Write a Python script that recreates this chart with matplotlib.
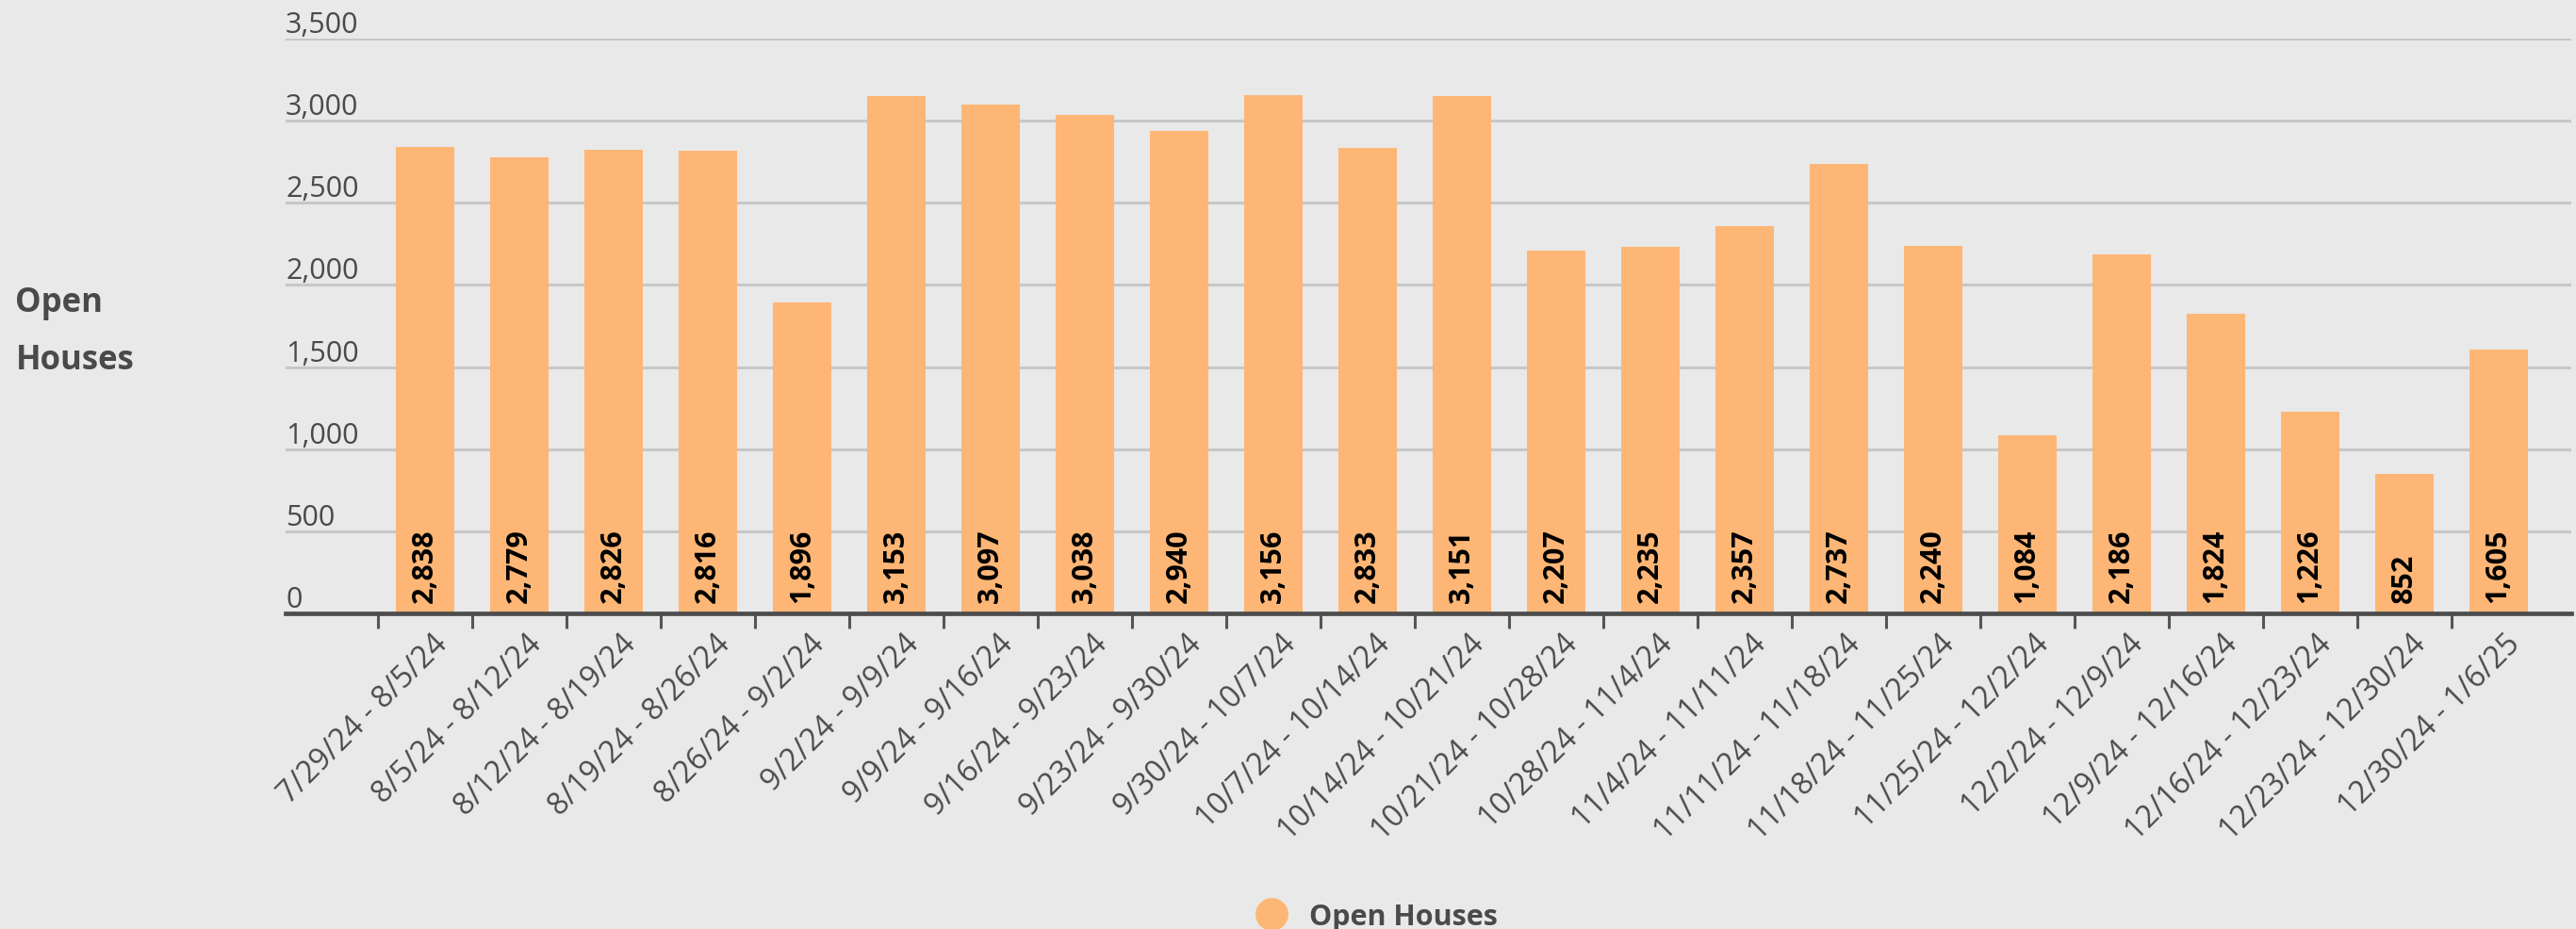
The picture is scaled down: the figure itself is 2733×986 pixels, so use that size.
import numpy as np
import matplotlib
matplotlib.use("Agg")
import matplotlib.pyplot as plt
import matplotlib.transforms as mtrans
from matplotlib.lines import Line2D

plt.rcParams['font.family'] = ['Open Sans', 'DejaVu Sans']

weeks = ["7/29/24 - 8/5/24", "8/5/24 - 8/12/24", "8/12/24 - 8/19/24", "8/19/24 - 8/26/24",
         "8/26/24 - 9/2/24", "9/2/24 - 9/9/24", "9/9/24 - 9/16/24", "9/16/24 - 9/23/24",
         "9/23/24 - 9/30/24", "9/30/24 - 10/7/24", "10/7/24 - 10/14/24", "10/14/24 - 10/21/24",
         "10/21/24 - 10/28/24", "10/28/24 - 11/4/24", "11/4/24 - 11/11/24", "11/11/24 - 11/18/24",
         "11/18/24 - 11/25/24", "11/25/24 - 12/2/24", "12/2/24 - 12/9/24", "12/9/24 - 12/16/24",
         "12/16/24 - 12/23/24", "12/23/24 - 12/30/24", "12/30/24 - 1/6/25"]
open_houses = [2838, 2779, 2826, 2816, 1896, 3153, 3097, 3038, 2940, 3156, 2833, 3151,
               2207, 2235, 2357, 2737, 2240, 1084, 2186, 1824, 1226, 852, 1605]
yticks = [0, 500, 1000, 1500, 2000, 2500, 3000, 3500]

bg = '#E8E9E8'
bar_color = '#FDB675'
txt = '#4A4A4A'

fig = plt.figure(figsize=(27.33, 9.87), dpi=100)
fig.patch.set_facecolor(bg)
ax = fig.add_axes([0.1109, 0.3394, 0.8871, 0.618])
ax.set_facecolor(bg)

x = np.arange(len(weeks))
bars = ax.bar(x, open_houses, width=0.62, color=bar_color, zorder=3)

# value labels at the base of each bar
for xi, v in zip(x, open_houses):
    ax.annotate(f"{v:,}", (xi, 0), xytext=(0, 9), textcoords='offset points',
                rotation=90, ha='center', va='bottom', fontsize=22,
                fontweight='bold', color='black', zorder=4)

ax.set_xlim(-1.48, len(weeks) - 0.23)
ax.set_ylim(0, 3500)

# gridlines + y labels sitting above them
ax.set_yticks(yticks)
ax.yaxis.grid(True, color='#C6C7C6', linewidth=2.2, zorder=0)
ax.tick_params(axis='y', length=0, labelleft=False)
for v in yticks:
    ax.text(0, v, f"{v:,}", transform=ax.get_yaxis_transform(), ha='left',
            va='bottom', fontsize=22, color=txt)

# ticks between categories, labels at centres
ax.set_xticks(x - 0.5)
ax.set_xticklabels([])
ax.tick_params(axis='x', which='major', length=11.5, width=2.2, color='#555555')
ax.set_xticks(x, minor=True)
ax.set_xticklabels(weeks, minor=True, rotation=45, ha='right', va='top',
                   rotation_mode='anchor', fontsize=23, color=txt)
ax.tick_params(axis='x', which='minor', length=0, pad=11)
shift = mtrans.ScaledTranslation(0.07, 0, fig.dpi_scale_trans)
for lbl in ax.get_xticklabels(minor=True):
    lbl.set_transform(lbl.get_transform() + shift)

for s in ['top', 'right', 'left']:
    ax.spines[s].set_visible(False)
ax.spines['bottom'].set_color('#4D4D4D')
ax.spines['bottom'].set_linewidth(3.4)
ax.spines['bottom'].set_zorder(5)

fig.text(0.006, 0.674, "Open", fontsize=25, fontweight='bold', color=txt, va='center')
fig.text(0.006, 0.612, "Houses", fontsize=25, fontweight='bold', color=txt, va='center')

handle = Line2D([], [], marker='o', linestyle='none', markersize=24,
                markerfacecolor=bar_color, markeredgecolor=bar_color)
fig.legend([handle], ["Open Houses"], loc='center', bbox_to_anchor=(0.532, 0.013),
           frameon=False, prop={'size': 22, 'weight': 'bold'}, labelcolor=txt,
           handletextpad=0.3, borderpad=0)

fig.savefig('out.png', dpi=100, facecolor=bg)
